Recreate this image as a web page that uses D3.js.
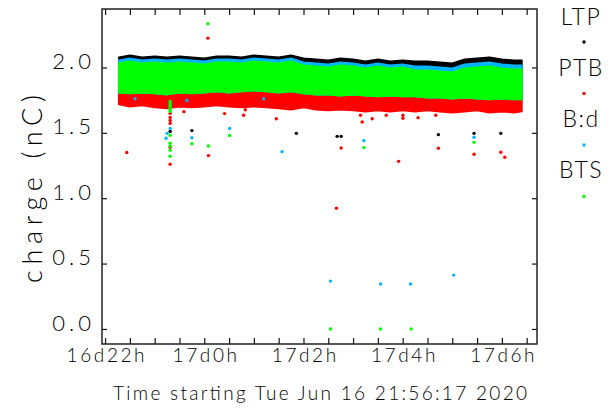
<!DOCTYPE html>
<html>
<head>
<meta charset="utf-8">
<script src="https://cdn.jsdelivr.net/npm/d3@7"></script>
<style>
  body { margin: 0; background: #fff; }
  svg { display: block; }
  svg text { font-family: "Lato", "Liberation Sans", Arial, sans-serif; font-weight: 300; fill: #000; }
</style>
</head>
<body>
<svg id="chart" width="608" height="410"></svg>
<script>
// hours counted from 2020-06-16 00:00
const startHour = 21.938;   // Tue Jun 16 21:56:17
const endHour = 30.708;

// dense band, sampled along time: upper / lower envelopes (nC)
const bandHours = [22.28, 22.5, 22.75, 23.0, 23.25, 23.5, 23.75, 24.0, 24.25, 24.5, 24.75,
  25.0, 25.25, 25.5, 25.75, 26.0, 26.25, 26.5, 26.75, 27.0, 27.25, 27.5, 27.75,
  28.0, 28.25, 28.5, 28.75, 29.0, 29.25, 29.5, 29.75, 30.0, 30.25, 30.40];
const ltpHigh = [2.076, 2.092, 2.076, 2.084, 2.076, 2.084, 2.076, 2.069, 2.084, 2.084, 2.076,
  2.092, 2.084, 2.076, 2.092, 2.069, 2.061, 2.053, 2.069, 2.061, 2.046, 2.061, 2.046,
  2.053, 2.046, 2.046, 2.038, 2.031, 2.061, 2.069, 2.076, 2.061, 2.053, 2.053];
const bdHigh = [2.053, 2.069, 2.053, 2.061, 2.053, 2.061, 2.053, 2.046, 2.061, 2.061, 2.053,
  2.069, 2.061, 2.053, 2.069, 2.038, 2.031, 2.023, 2.038, 2.031, 2.015, 2.031, 2.015,
  2.023, 2.008, 2.008, 2.000, 1.992, 2.023, 2.031, 2.038, 2.023, 2.015, 2.015];
const btsHigh = [2.031, 2.046, 2.031, 2.038, 2.031, 2.038, 2.031, 2.023, 2.038, 2.038, 2.031,
  2.046, 2.038, 2.031, 2.046, 2.015, 2.008, 2.000, 2.015, 2.008, 1.992, 2.008, 1.992,
  2.000, 1.977, 1.977, 1.969, 1.962, 1.992, 2.000, 2.008, 1.992, 1.985, 1.985];
const btsLow = [1.809, 1.802, 1.809, 1.802, 1.794, 1.809, 1.802, 1.809, 1.817, 1.809, 1.817,
  1.824, 1.817, 1.809, 1.817, 1.802, 1.794, 1.794, 1.786, 1.794, 1.786, 1.779, 1.786,
  1.779, 1.779, 1.771, 1.771, 1.763, 1.771, 1.763, 1.756, 1.763, 1.756, 1.756];
const ptbLow = [1.718, 1.702, 1.710, 1.695, 1.687, 1.702, 1.695, 1.702, 1.710, 1.702, 1.695,
  1.702, 1.695, 1.687, 1.679, 1.695, 1.679, 1.672, 1.679, 1.672, 1.664, 1.672, 1.664,
  1.672, 1.664, 1.672, 1.664, 1.656, 1.664, 1.672, 1.656, 1.664, 1.656, 1.664];

// isolated points [hour, charge]
const ltpPoints = [[23.312, 1.511], [23.750, 1.517], [25.857, 1.496], [26.679, 1.473], [26.760, 1.473],
  [28.720, 1.486], [29.439, 1.496], [29.978, 1.496]];
const ptbPoints = [[22.437, 1.349], [23.312, 1.649], [23.312, 1.618], [23.312, 1.595], [23.312, 1.572],
  [23.312, 1.389], [23.312, 1.260], [23.589, 1.662], [24.073, 2.224], [24.085, 1.326], [24.409, 1.647],
  [24.793, 1.634], [24.827, 1.677], [25.453, 1.608], [26.665, 0.924], [26.760, 1.384], [27.150, 1.634],
  [27.184, 1.583], [27.386, 1.608], [27.669, 1.634], [27.918, 1.282], [28.004, 1.634], [28.004, 1.611],
  [28.310, 1.616], [28.666, 1.634], [28.720, 1.382], [29.439, 1.336], [29.978, 1.351], [30.059, 1.313]];
const bdPoints = [[22.605, 1.761], [23.230, 1.458], [23.250, 1.496], [23.312, 1.534], [23.649, 1.748],
  [23.750, 1.463], [24.510, 1.534], [25.197, 1.761], [25.568, 1.356], [26.544, 0.366], [27.217, 1.440],
  [27.554, 0.344], [28.160, 0.344], [29.029, 0.412], [29.439, 1.466]];
const btsPoints = [[23.312, 1.740], [23.312, 1.725], [23.312, 1.710], [23.312, 1.695], [23.312, 1.680],
  [23.312, 1.664], [23.312, 1.481], [23.312, 1.420], [23.312, 1.397], [23.312, 1.366], [23.312, 1.321],
  [23.750, 1.417], [24.073, 2.334], [24.085, 1.399], [24.510, 1.479], [26.544, 0.000], [27.217, 1.387],
  [27.554, 0.000], [28.170, 0.000], [29.439, 1.427]];

const yTicks = [0.0, 0.5, 1.0, 1.5, 2.0];
const seriesNames = ["LTP", "PTB", "B:d", "BTS"];
const seriesColors = ["#000000", "#ff0000", "#00b4ff", "#00ff00"];

const dayStart = Date.UTC(2020, 5, 16);
const toDate = h => new Date(dayStart + h * 3600e3);

const margin = {top: 9, right: 71, bottom: 66, left: 102};
const width = 608 - margin.left - margin.right;
const height = 410 - margin.top - margin.bottom;

const svg = d3.select("#chart");
const g = svg.append("g").attr("transform", `translate(${margin.left},${margin.top})`);

const x = d3.scaleUtc().domain([toDate(startHour), toDate(endHour)]).range([0, width]);
const y = d3.scaleLinear().domain([-0.115, 2.447]).range([height, 0]);

// bands (order: LTP, PTB, B:d, BTS so green ends on top)
const bands = [
  {hi: ltpHigh, lo: btsLow},
  {hi: btsHigh, lo: ptbLow},
  {hi: bdHigh, lo: btsLow},
  {hi: btsHigh, lo: btsLow}
];
const pointSets = [ltpPoints, ptbPoints, bdPoints, btsPoints];

bands.forEach((b, i) => {
  const area = d3.area()
    .x((d, j) => x(toDate(bandHours[j])))
    .y0((d, j) => y(b.lo[j]))
    .y1((d, j) => y(b.hi[j]));
  g.append("path")
    .datum(bandHours)
    .attr("d", area)
    .attr("fill", seriesColors[i])
    .attr("stroke", seriesColors[i])
    .attr("stroke-width", 2)
    .attr("stroke-linejoin", "round");
  g.selectAll(null)
    .data(pointSets[i])
    .enter()
    .append("circle")
      .attr("cx", d => x(toDate(d[0])))
      .attr("cy", d => y(d[1]))
      .attr("r", 1.7)
      .attr("fill", seriesColors[i]);
});

// axes
const xTickDates = d3.utcMinute.every(30).range(toDate(startHour), toDate(endHour));
const xLabel = d => d.getUTCHours() % 2 === 0 && d.getUTCMinutes() === 0
  ? `${d.getUTCDate()}d${d.getUTCHours()}h` : "";

const xAxis = g.append("g")
  .attr("transform", `translate(0,${height})`)
  .call(d3.axisBottom(x).tickValues(xTickDates).tickFormat(xLabel)
    .tickSizeInner(-6).tickSizeOuter(0).tickPadding(4));
xAxis.selectAll("text")
  .attr("font-size", 19).attr("letter-spacing", 2.6)
  .attr("dx", 1.3);

g.append("g")
  .call(d3.axisTop(x).tickValues(xTickDates).tickFormat("")
    .tickSizeInner(-6).tickSizeOuter(0));

const yAxis = g.append("g")
  .call(d3.axisLeft(y).tickValues(yTicks).tickFormat(d3.format(".1f"))
    .tickSizeInner(-5).tickSizeOuter(0).tickPadding(7));
yAxis.selectAll("text")
  .attr("font-size", 22).attr("letter-spacing", 4)
  .attr("dy", "0.05em");

g.append("g")
  .attr("transform", `translate(${width},0)`)
  .call(d3.axisRight(y).tickValues(yTicks).tickFormat("")
    .tickSizeInner(-5).tickSizeOuter(0));

g.selectAll(".domain").remove();
g.selectAll(".tick line").attr("stroke", "#111").attr("stroke-width", 1.2);

g.append("rect")
  .attr("width", width).attr("height", height)
  .attr("fill", "none").attr("stroke", "#222").attr("stroke-width", 1.5);

// titles
svg.append("text")
  .attr("x", 320).attr("y", 400)
  .attr("text-anchor", "middle")
  .attr("font-size", 19)
  .attr("textLength", 414).attr("lengthAdjust", "spacing")
  .text("Time starting Tue Jun 16 21:56:17 2020");

svg.append("text")
  .attr("transform", "translate(42,189) rotate(-90)")
  .attr("text-anchor", "middle")
  .attr("font-size", 27)
  .attr("textLength", 188).attr("lengthAdjust", "spacing")
  .text("charge (nC)");

// legend
const legend = svg.append("g");
seriesNames.forEach((name, i) => {
  legend.append("text")
    .attr("x", 581).attr("y", 25 + i * 51)
    .attr("text-anchor", "middle")
    .attr("font-size", 23).attr("letter-spacing", 1.5)
    .text(name);
  legend.append("circle")
    .attr("cx", 584).attr("cy", 42 + i * 51.5)
    .attr("r", 1.7)
    .attr("fill", seriesColors[i]);
});
</script>
</body>
</html>
